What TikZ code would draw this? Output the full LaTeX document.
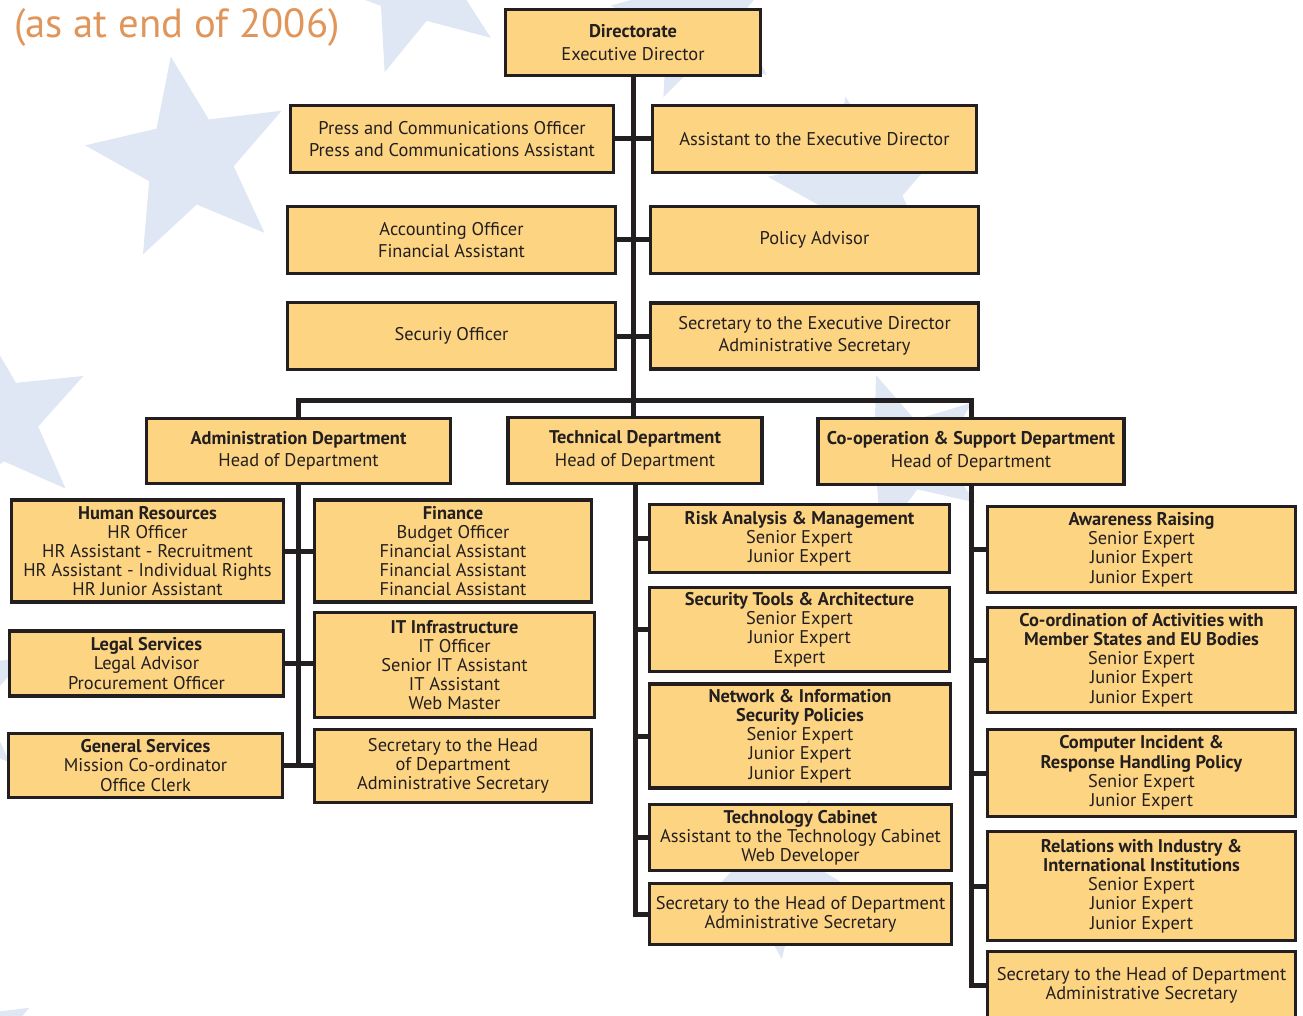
\documentclass[tikz,border=0pt]{standalone}
\usepackage{fontspec}
\setmainfont{PT Sans}
\definecolor{ink}{HTML}{231F20}
\definecolor{boxfill}{HTML}{FDD582}
\definecolor{starblue}{HTML}{DFE7F4}
\definecolor{titleor}{HTML}{E0955A}
\pgfdeclarelayer{starlayer}
\pgfdeclarelayer{linelayer}
\pgfsetlayers{starlayer,linelayer,main}
\newcommand{\bgstar}[4]{%
  \fill[starblue, shift={(#1,#2)}, yscale=-1] ({90+#4}:#3)
    \foreach \k in {1,...,9}{ -- ({90+#4+36*\k}:{ifthenelse(isodd(\k),0.43*#3,#3)}) } -- cycle;}
\begin{document}
\begin{tikzpicture}[x=1pt,y=-1pt,
  box/.style={draw=ink, line width=3.5pt, fill=boxfill, text=ink, align=center,
    inner sep=0pt, font=\fontsize{18.4}{19.2}\selectfont},
  wide/.style={font=\fontsize{18.4}{22.5}\selectfont},
  conn/.style={draw=ink, line width=5pt, line join=miter}]
\useasboundingbox (0,0) rectangle (1303,1016);
\clip (0,0) rectangle (1303,1016);
% background stars
\begin{pgfonlayer}{starlayer}
\bgstar{189}{160}{105}{10}
\bgstar{414}{-18}{95}{18}
\bgstar{700}{15}{90}{12}
\bgstar{862}{190}{95}{10}
\bgstar{905}{455}{85}{20}
\bgstar{770}{875}{85}{44}
\bgstar{-3}{420}{97}{9}
\bgstar{-55}{700}{90}{10}
\bgstar{-50}{1050}{90}{10}
\end{pgfonlayer}
% title
\node[anchor=base west, text=titleor, inner sep=0pt, font=\fontsize{40.7}{41}\selectfont] (title) at (14,38) {(as at end of 2006)};
% top level
\node[box, wide, minimum width=255, minimum height=66] (dir) at (633,42.5) {\textbf{Directorate}\\Executive Director};
\node[box, wide, minimum width=323, minimum height=67] (press) at (452,139) {Press and Communications Officer\\Press and Communications Assistant};
\node[box, minimum width=324, minimum height=67] (asst) at (814.5,139) {Assistant to the Executive Director};
\node[box, wide, minimum width=328, minimum height=67] (acc) at (451.5,240) {Accounting Officer\\Financial Assistant};
\node[box, minimum width=328, minimum height=67] (pol) at (814.5,240) {Policy Advisor};
\node[box, minimum width=328, minimum height=67] (secu) at (451.5,336) {Securiy Officer};
\node[box, wide, minimum width=328, minimum height=66] (seced) at (814.5,336) {Secretary to the Executive Director\\Administrative Secretary};
% departments
\node[box, wide, minimum width=304, minimum height=65] (admin) at (298.5,451) {\textbf{Administration Department}\\Head of Department};
\node[box, wide, minimum width=254, minimum height=66] (tech) at (635,450.5) {\textbf{Technical Department}\\Head of Department};
\node[box, wide, minimum width=306, minimum height=66] (coop) at (971,451.5) {\textbf{Co-operation \& Support Department}\\Head of Department};
% admin units
\node[box, minimum width=272, minimum height=102] (hr) at (147.5,551) {\textbf{Human Resources}\\HR Officer\\HR Assistant - Recruitment\\HR Assistant - Individual Rights\\HR Junior Assistant};
\node[box, minimum width=274, minimum height=65] (legal) at (146.5,663.5) {\textbf{Legal Services}\\Legal Advisor\\Procurement Officer};
\node[box, minimum width=274, minimum height=64] (gen) at (145.5,765.5) {\textbf{General Services}\\Mission Co-ordinator\\Office Clerk};
\node[box, minimum width=277, minimum height=102] (fin) at (453,551) {\textbf{Finance}\\Budget Officer\\Financial Assistant\\Financial Assistant\\Financial Assistant};
\node[box, minimum width=280, minimum height=105] (it) at (454.5,665) {\textbf{IT Infrastructure}\\IT Officer\\Senior IT Assistant\\IT Assistant\\Web Master};
\node[box, minimum width=277, minimum height=73] (asec) at (453,766) {Secretary to the Head\\of Department\\Administrative Secretary};
% technical units
\node[box, minimum width=300, minimum height=68] (risk) at (799.5,538.5) {\textbf{Risk Analysis \& Management}\\Senior Expert\\Junior Expert};
\node[box, minimum width=300, minimum height=84] (tools) at (799.5,629.5) {\textbf{Security Tools \& Architecture}\\Senior Expert\\Junior Expert\\Expert};
\node[box, minimum width=301, minimum height=104] (net) at (800,736) {\textbf{Network \& Information}\\\textbf{Security Policies}\\Senior Expert\\Junior Expert\\Junior Expert};
\node[box, minimum width=302, minimum height=66] (cab) at (800.5,837.5) {\textbf{Technology Cabinet}\\Assistant to the Technology Cabinet\\Web Developer};
\node[box, minimum width=302, minimum height=61] (tsec) at (800.5,914) {Secretary to the Head of Department\\Administrative Secretary};
% co-operation units
\node[box, minimum width=308, minimum height=86] (aware) at (1141.5,549.5) {\textbf{Awareness Raising}\\Senior Expert\\Junior Expert\\Junior Expert};
\node[box, minimum width=308, minimum height=105] (coord) at (1141.5,660) {\textbf{Co-ordination of Activities with}\\\textbf{Member States and EU Bodies}\\Senior Expert\\Junior Expert\\Junior Expert};
\node[box, minimum width=308, minimum height=87] (cir) at (1141.5,773) {\textbf{Computer Incident \&}\\\textbf{Response Handling Policy}\\Senior Expert\\Junior Expert};
\node[box, minimum width=308, minimum height=109] (rel) at (1141.5,886) {\textbf{Relations with Industry \&}\\\textbf{International Institutions}\\Senior Expert\\Junior Expert\\Junior Expert};
\node[box, minimum width=308, minimum height=67] (csec) at (1141.5,985) {Secretary to the Head of Department\\Administrative Secretary};
% connectors
\coordinate (barL) at (admin.north |- 0,400);
\coordinate (barR) at (coop.north |- 0,400);
\begin{pgfonlayer}{linelayer}
\draw[conn] (dir.south) -- (dir.south |- tech.north);
\draw[conn] (press.east) -- (asst.west);
\draw[conn] (acc.east) -- (pol.west);
\draw[conn] (secu.east) -- (seced.west);
\draw[conn] (admin.north) -- (barL) -- (barR) -- (coop.north);
% admin
\draw[conn] (admin.south) -- (admin.south |- gen.east);
\draw[conn] (hr.east) -- (fin.west);
\draw[conn] (legal.east) -- (legal.east -| it.west);
\draw[conn] (gen.east) -- (gen.east -| asec.west);
% technical
\draw[conn] (tech.south) |- (tsec.west);
\draw[conn] (tech.south |- risk.west) -- (risk.west);
\draw[conn] (tech.south |- tools.west) -- (tools.west);
\draw[conn] (tech.south |- net.west) -- (net.west);
\draw[conn] (tech.south |- cab.west) -- (cab.west);
% co-operation
\draw[conn] (coop.south) |- (csec.west);
\draw[conn] (coop.south |- aware.west) -- (aware.west);
\draw[conn] (coop.south |- coord.west) -- (coord.west);
\draw[conn] (coop.south |- cir.west) -- (cir.west);
\draw[conn] (coop.south |- rel.west) -- (rel.west);
\end{pgfonlayer}
\end{tikzpicture}
\end{document}
